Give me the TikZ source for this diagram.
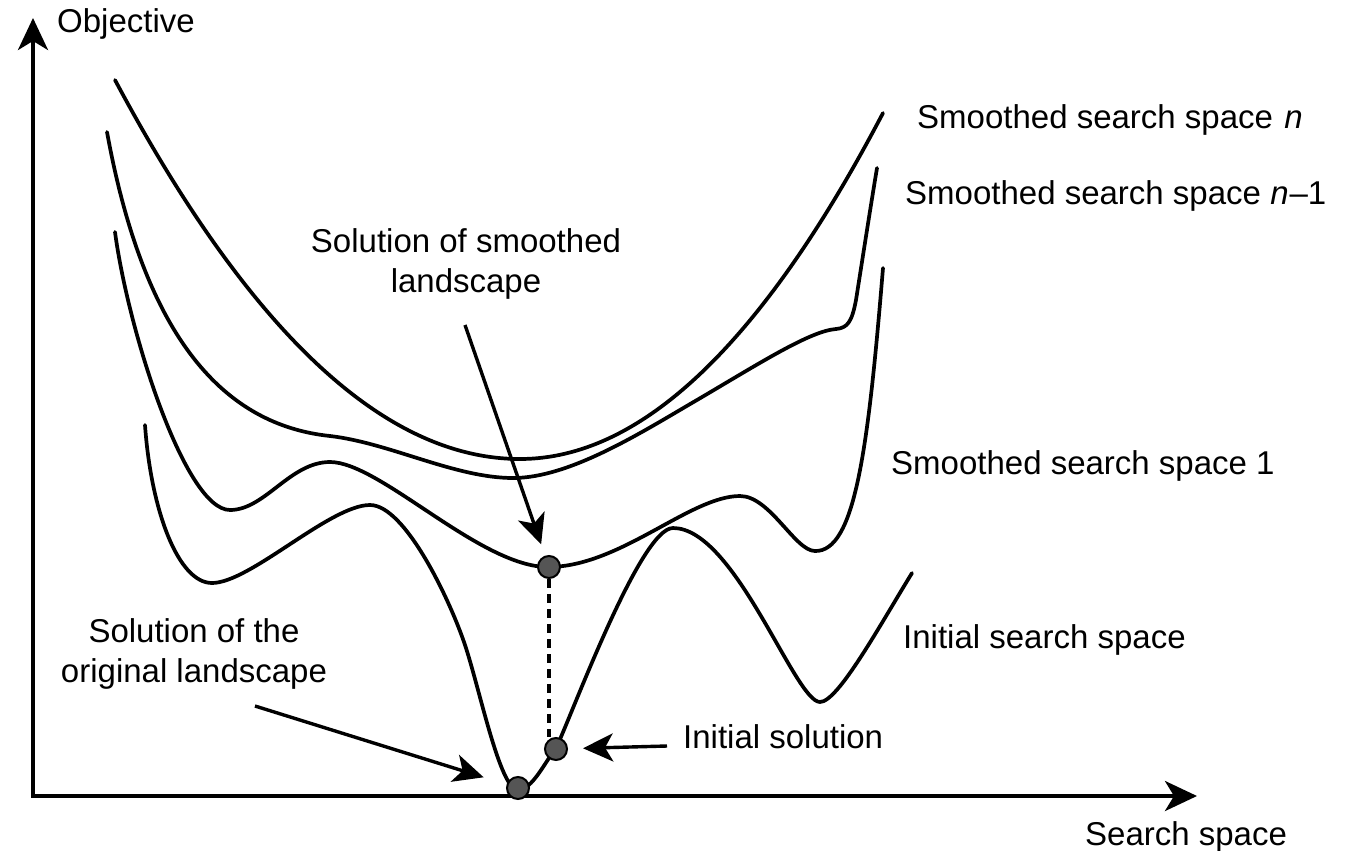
\documentclass[tikz,border=0pt]{standalone}
\usepackage{fontspec}
\setmainfont{Liberation Sans}
\usetikzlibrary{arrows.meta}
\definecolor{dotgray}{HTML}{555555}
\begin{document}
\begin{tikzpicture}[x=1pt,y=-1pt,
  curve/.style={line width=3.7pt, line join=round, line cap=round},
  axis/.style={line width=3.8pt, -{Stealth[length=32pt,width=30pt,inset=9pt]}},
  pointer/.style={line width=3.4pt, -{Stealth[length=30pt,width=28pt,inset=8pt]}},
  dot/.style={circle, draw=black, line width=2pt, fill=dotgray, minimum size=22pt, inner sep=0pt},
  lbl/.style={inner sep=0pt, font=\fontsize{33}{40}\selectfont}]
\useasboundingbox (0,0) rectangle (1349,851);

% axes
\coordinate (origin) at (33,796);
\coordinate (ytip) at (33,18);
\coordinate (xtip) at (1197,796);
\draw[axis] (origin) -- (ytip);
\draw[axis] ([xshift=-2pt]origin) -- (xtip);

% curve n
\draw[curve] (115,80) .. controls (250,333) and (385,459) .. (520,459)
  .. controls (641,459) and (762,344) .. (883,113);

% curve n-1
\draw[curve] (107,132) .. controls (145,340) and (225,425) .. (330,436)
  .. controls (390,443) and (455,478) .. (513,478)
  .. controls (570,478) and (642,432) .. (697,400)
  .. controls (760,363) and (810,331) .. (836,329)
  .. controls (848,328) and (852,321) .. (856,300)
  .. controls (862,262) and (870,210) .. (877,168);

% curve 1
\draw[curve] (115,232) .. controls (128,330) and (185,510) .. (230,510)
  .. controls (265,510) and (290,462) .. (330,462)
  .. controls (380,462) and (480,567) .. (548,567)
  .. controls (620,567) and (690,496) .. (740,496)
  .. controls (770,496) and (795,551) .. (815,551)
  .. controls (855,552) and (868,450) .. (883,268);

% initial search space
\draw[curve] (145,425) .. controls (151,510) and (178,583) .. (212,583)
  .. controls (250,583) and (330,505) .. (370,505)
  .. controls (405,505) and (450,600) .. (465,645)
  .. controls (480,690) and (500,790) .. (518,790)
  .. controls (532,790) and (545,762) .. (556,748)
  .. controls (570,720) and (640,528) .. (673,528)
  .. controls (735,528) and (795,702) .. (820,702)
  .. controls (838,702) and (880,625) .. (912,573);

% solution points
\node[dot] (psm) at (549,567) {};
\node[dot] (pinit) at (556,749) {};
\node[dot] (porig) at (518,788) {};

\draw[line width=3.4pt, dash pattern=on 9pt off 6pt] (psm.south) -- (psm.south |- pinit.north);

% labels
\node[lbl, anchor=base west] (lobj) at (57,33) {Objective};
\node[lbl, anchor=base west] (ln) at (917,128) {Smoothed search space \kern2pt\textit{n}};
\node[lbl, anchor=base west] (lnm) at (905,204) {Smoothed search space \textit{n}\kern1pt--1};
\node[lbl, anchor=base west] (l1) at (891,474) {Smoothed search space 1};
\node[lbl, anchor=base west] (linit) at (903,648) {Initial search space};
\node[lbl, anchor=base west] (lis) at (683,748) {Initial solution};
\node[lbl, anchor=base west] (lss) at (1085,845) {Search space};
\node[lbl, anchor=north, align=center] (lsm) at (466,228) {Solution of smoothed\\landscape};
\node[lbl, anchor=north, align=center] (lor) at (194,618) {Solution of the\\original landscape};

% pointers
\coordinate (asm) at (465,325);
\coordinate (aor) at (255,706);
\coordinate (ais) at (667,746);
\draw[pointer, shorten >=12pt] (asm) -- (psm);
\draw[pointer, shorten >=24pt] (aor) -- (porig);
\draw[pointer, shorten >=15pt] (ais) -- (pinit);
\end{tikzpicture}
\end{document}
